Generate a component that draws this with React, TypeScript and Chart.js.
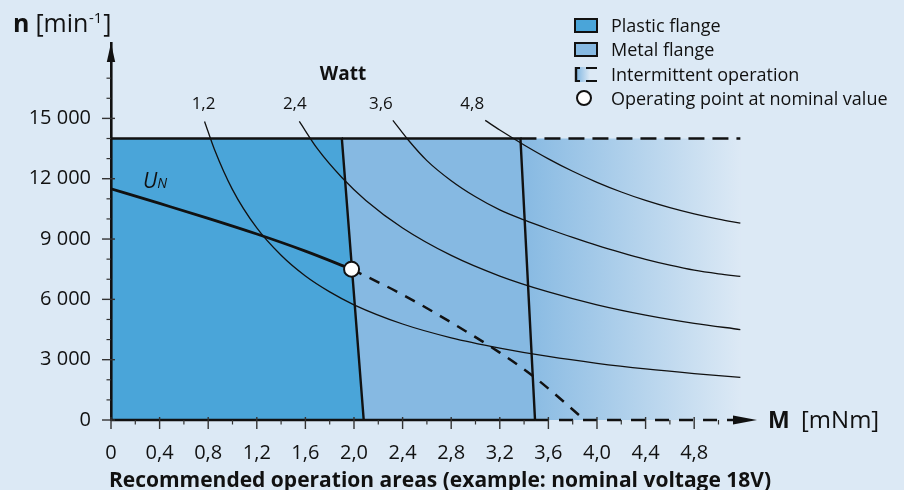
import React, { useEffect, useRef } from 'react';
import { Chart, registerables } from 'chart.js';

Chart.register(...registerables);

const FONT = '"Open Sans", "DejaVu Sans", sans-serif';
const BG = '#dce9f5';
const PLASTIC = '#4aa5d9';
const METAL = '#86b9e2';
const INK = '#111111';

// ---- axes ----
const xTickValues = [0, 0.4, 0.8, 1.2, 1.6, 2.0, 2.4, 2.8, 3.2, 3.6, 4.0, 4.4, 4.8];
const xMinorValues = [0.2, 0.6, 1.0, 1.4, 1.8, 2.2, 2.6, 3.0, 3.4, 3.8, 4.2, 4.6, 5.0];
const yTickValues = [0, 3000, 6000, 9000, 12000, 15000];
const yMinorValues = [1000, 2000, 4000, 5000, 7000, 8000, 10000, 11000, 13000, 14000, 16000, 17000];
const xMax = 5.317;
const yMax = 18750;

// ---- operation areas ----
const maxSpeed = 14000;
const plasticLimitTop = 1.9;
const plasticLimitBottom = 2.08;
const metalLimitTop = 3.37;
const metalLimitBottom = 3.49;
const intermittentLimit = 5.18;
const axisDashEnd = 5.12;

// ---- constant power curves (Watt) ----
const wattLabels = ['1,2', '2,4', '3,6', '4,8'];
const watt12M = [0.77, 0.85, 1.0, 1.2, 1.4, 1.6, 1.8, 2.0, 2.4, 2.8, 3.2, 3.6, 4.0, 4.4, 4.8, 5.18];
const watt12N = [14850, 13480, 11460, 9550, 8190, 7160, 6370, 5730, 4775, 4090, 3580, 3160, 2820, 2540, 2310, 2120];
const watt24M = [1.55, 1.7, 1.9, 2.1, 2.4, 2.8, 3.2, 3.6, 4.0, 4.4, 4.8, 5.18];
const watt24N = [14850, 13480, 12060, 10910, 9550, 8185, 7160, 6370, 5730, 5220, 4810, 4500];
const watt36M = [2.32, 2.45, 2.6, 2.8, 3.0, 3.2, 3.4, 3.6, 3.8, 4.0, 4.2, 4.4, 4.6, 4.8, 5.0, 5.18];
const watt36N = [14900, 13900, 12900, 11900, 11100, 10450, 9950, 9500, 9080, 8680, 8320, 7990, 7700, 7450, 7270, 7140];
const watt48M = [3.08, 3.2, 3.4, 3.6, 3.8, 4.0, 4.2, 4.4, 4.6, 4.8, 5.0, 5.18];
const watt48N = [14900, 14420, 13680, 12990, 12370, 11820, 11340, 10920, 10560, 10250, 9990, 9790];

// ---- nominal voltage characteristic ----
const unM = [0, 0.4, 0.8, 1.2, 1.6, 1.98];
const unN = [11500, 10770, 10030, 9250, 8400, 7500];
const unDashM = [1.98, 2.38, 2.8, 3.2, 3.47, 3.9];
const unDashN = [7500, 6300, 4850, 3350, 2200, 0];
const operatingM = 1.98;
const operatingN = 7500;

const zip = (xs: number[], ys: number[]) => xs.map((x, i) => ({ x, y: ys[i] }));

// label offsets (px) relative to the start of each power curve
const wattLabelDx = [-1, -4.5, -12, -13];

function fmtY(v: number) {
  if (v < 1000) return String(v);
  return `${Math.floor(v / 1000)} ${String(v % 1000).padStart(3, '0')}`;
}
function fmtX(v: number) {
  if (v === 0) return '0';
  return v.toFixed(1).replace('.', ',');
}

const overlay = {
  id: 'overlay',
  afterDraw(chart: any) {
    const { ctx, scales } = chart;
    const xs = scales.x;
    const ys = scales.y;
    const x0 = xs.getPixelForValue(0);
    const y0 = ys.getPixelForValue(0);
    ctx.save();
    const seg = (a: number, b: number, c: number, d: number, w: number, col = INK) => {
      ctx.beginPath();
      ctx.lineWidth = w;
      ctx.strokeStyle = col;
      ctx.moveTo(a, b);
      ctx.lineTo(c, d);
      ctx.stroke();
    };
    // ticks
    xTickValues.forEach((v) => {
      const p = xs.getPixelForValue(v);
      seg(p, y0 - 3, p, y0 + 9, 1.4, '#333');
    });
    xMinorValues.forEach((v) => {
      const p = xs.getPixelForValue(v);
      seg(p, y0, p, y0 + 4.5, 1.2, '#333');
    });
    yTickValues.forEach((v) => {
      const p = ys.getPixelForValue(v);
      seg(x0 - 9, p, x0 + 4, p, 1.4, '#333');
    });
    yMinorValues.forEach((v) => {
      const p = ys.getPixelForValue(v);
      seg(x0 - 4.5, p, x0, p, 1.2, '#333');
    });
    // arrow heads
    ctx.fillStyle = INK;
    ctx.beginPath();
    ctx.moveTo(x0, ys.top);
    ctx.lineTo(x0 - 4.2, ys.top + 19);
    ctx.lineTo(x0 + 4.2, ys.top + 19);
    ctx.closePath();
    ctx.fill();
    ctx.beginPath();
    ctx.moveTo(xs.right, y0);
    ctx.lineTo(xs.right - 24, y0 - 4.5);
    ctx.lineTo(xs.right - 24, y0 + 4.5);
    ctx.closePath();
    ctx.fill();

    // texts
    ctx.fillStyle = INK;
    ctx.textBaseline = 'alphabetic';
    ctx.textAlign = 'left';
    // y axis title
    ctx.font = `bold 25px ${FONT}`;
    ctx.fillText('n', 13, 32);
    let cx = 13 + ctx.measureText('n').width + 6;
    ctx.font = `25px ${FONT}`;
    ctx.fillText('[min', cx, 32);
    cx += ctx.measureText('[min').width;
    ctx.font = `15px ${FONT}`;
    ctx.fillText('-1', cx + 0.5, 23);
    cx += ctx.measureText('-1').width + 1.5;
    ctx.font = `25px ${FONT}`;
    ctx.fillText(']', cx, 32);

    // x axis title
    ctx.font = `bold 23px ${FONT}`;
    ctx.fillText('M', 768, 428);
    ctx.font = `24px ${FONT}`;
    ctx.fillText('[mNm]', 801, 428);

    // U_N
    ctx.font = `italic 21px ${FONT}`;
    ctx.fillText('U', 143, 188);
    const uw = ctx.measureText('U').width;
    ctx.font = `italic 14px ${FONT}`;
    ctx.fillText('N', 143 + uw, 188);

    // Watt labels
    ctx.textAlign = 'center';
    ctx.font = `bold 19px ${FONT}`;
    ctx.fillText('Watt', 343, 80);
    ctx.font = `17px ${FONT}`;
    const starts = [watt12M[0], watt24M[0], watt36M[0], watt48M[0]];
    wattLabels.forEach((l, i) => {
      ctx.fillText(l, xs.getPixelForValue(starts[i]) + wattLabelDx[i], 109);
    });

    // bottom caption
    ctx.font = `bold 21px ${FONT}`;
    ctx.fillText('Recommended operation areas (example: nominal voltage 18V)', 440, 487);

    // legend
    ctx.textAlign = 'left';
    ctx.lineWidth = 2;
    ctx.strokeStyle = INK;
    ctx.fillStyle = PLASTIC;
    ctx.fillRect(575, 19, 22, 13);
    ctx.strokeRect(575, 19, 22, 13);
    ctx.fillStyle = METAL;
    ctx.fillRect(575, 43, 22, 13);
    ctx.strokeRect(575, 43, 22, 13);
    const lg = ctx.createLinearGradient(577, 0, 590, 0);
    lg.addColorStop(0, METAL);
    lg.addColorStop(1, BG);
    ctx.fillStyle = lg;
    ctx.fillRect(577, 67, 20, 15);
    seg(576, 67, 576, 82, 2.4);
    seg(575, 68, 580, 68, 2);
    seg(575, 81, 580, 81, 2);
    seg(586, 68, 597, 68, 2);
    seg(586, 81, 597, 81, 2);
    ctx.beginPath();
    ctx.arc(584, 98, 7, 0, Math.PI * 2);
    ctx.fillStyle = '#ffffff';
    ctx.fill();
    ctx.lineWidth = 2;
    ctx.stroke();

    ctx.fillStyle = INK;
    ctx.font = `18px ${FONT}`;
    ctx.fillText('Plastic flange', 611, 31.5);
    ctx.fillText('Metal flange', 611, 56);
    ctx.fillText('Intermittent operation', 611, 80.5);
    ctx.fillText('Operating point at nominal value', 611, 105);
    ctx.restore();
  },
};

export default function App() {
  const ref = useRef<HTMLCanvasElement>(null);
  useEffect(() => {
    const canvas = ref.current;
    if (!canvas) return;
    Chart.defaults.font.family = FONT;
    const thin = { borderColor: INK, borderWidth: 1.3, pointRadius: 0, fill: false, cubicInterpolationMode: 'monotone' as const, order: 2 };
    const chart = new Chart(canvas, {
      type: 'line',
      data: {
        datasets: [
          {
            label: 'Operating point at nominal value',
            data: [{ x: operatingM, y: operatingN }],
            showLine: false,
            pointRadius: 7.5,
            pointBackgroundColor: '#ffffff',
            pointBorderColor: INK,
            pointBorderWidth: 2,
            order: 0,
          },
          {
            label: 'U_N',
            data: zip(unM, unN),
            borderColor: INK,
            borderWidth: 2.8,
            pointRadius: 0,
            fill: false,
            cubicInterpolationMode: 'monotone',
            order: 1,
          },
          {
            label: 'U_N intermittent',
            data: zip(unDashM, unDashN),
            borderColor: INK,
            borderWidth: 2.5,
            borderDash: [11, 9],
            pointRadius: 0,
            fill: false,
            cubicInterpolationMode: 'monotone',
            order: 1,
          },
          { label: '1,2 W', data: zip(watt12M, watt12N), ...thin },
          { label: '2,4 W', data: zip(watt24M, watt24N), ...thin },
          { label: '3,6 W', data: zip(watt36M, watt36N), ...thin },
          { label: '4,8 W', data: zip(watt48M, watt48N), ...thin },
          {
            label: 'Intermittent limit',
            data: [
              { x: metalLimitTop, y: maxSpeed },
              { x: intermittentLimit, y: maxSpeed },
            ],
            borderColor: INK,
            borderWidth: 2.5,
            borderDash: [16, 8],
            pointRadius: 0,
            fill: false,
            order: 3,
          },
          {
            label: 'Axis solid',
            data: [
              { x: 0, y: 0 },
              { x: metalLimitBottom, y: 0 },
            ],
            borderColor: INK,
            borderWidth: 2.6,
            pointRadius: 0,
            fill: false,
            clip: false,
            order: 3,
          },
          {
            label: 'Axis dashed',
            data: [
              { x: metalLimitBottom, y: 0 },
              { x: axisDashEnd, y: 0 },
            ],
            borderColor: INK,
            borderWidth: 2.6,
            borderDash: [14, 10],
            pointRadius: 0,
            fill: false,
            clip: false,
            order: 3,
          },
          {
            label: 'Plastic flange',
            data: [
              { x: 0, y: maxSpeed },
              { x: plasticLimitTop, y: maxSpeed },
              { x: plasticLimitBottom, y: 0 },
            ],
            borderColor: INK,
            borderWidth: 2.4,
            backgroundColor: PLASTIC,
            fill: 'origin',
            pointRadius: 0,
            tension: 0,
            order: 5,
          },
          {
            label: 'Metal flange',
            data: [
              { x: plasticLimitTop, y: maxSpeed },
              { x: metalLimitTop, y: maxSpeed },
              { x: metalLimitBottom, y: 0 },
            ],
            borderColor: INK,
            borderWidth: 2.4,
            backgroundColor: METAL,
            fill: 'origin',
            pointRadius: 0,
            tension: 0,
            order: 6,
          },
          {
            label: 'Intermittent operation',
            data: [
              { x: metalLimitTop, y: maxSpeed },
              { x: intermittentLimit, y: maxSpeed },
              { x: intermittentLimit, y: 0 },
            ],
            borderWidth: 0,
            borderColor: 'rgba(0,0,0,0)',
            backgroundColor: (c: any) => {
              const ch = c.chart;
              if (!ch.chartArea) return METAL;
              const xs = ch.scales.x;
              const g = ch.ctx.createLinearGradient(
                xs.getPixelForValue(metalLimitTop), 0,
                xs.getPixelForValue(intermittentLimit), 0,
              );
              g.addColorStop(0, METAL);
              g.addColorStop(1, BG);
              return g;
            },
            fill: 'origin',
            pointRadius: 0,
            tension: 0,
            order: 7,
          },
        ] as any,
      },
      options: {
        animation: false,
        responsive: false,
        devicePixelRatio: 1,
        events: [],
        layout: { padding: { top: 43, right: 147, left: 0, bottom: 0 } },
        plugins: { legend: { display: false }, tooltip: { enabled: false }, title: { display: false } },
        scales: {
          x: {
            type: 'linear',
            min: 0,
            max: xMax,
            grid: { display: false, drawTicks: false },
            border: { display: false },
            afterBuildTicks: (s: any) => {
              s.ticks = xTickValues.map((v) => ({ value: v }));
            },
            afterFit: (s: any) => {
              s.height = 70;
            },
            ticks: {
              autoSkip: false,
              maxRotation: 0,
              padding: 21,
              color: INK,
              font: { size: 20, family: FONT },
              callback: (v: any) => fmtX(Number(v)),
            },
          },
          y: {
            type: 'linear',
            min: 0,
            max: yMax,
            grid: { display: false, drawTicks: false },
            border: { display: true, color: INK, width: 2.6, z: 1 },
            afterBuildTicks: (s: any) => {
              s.ticks = yTickValues.map((v) => ({ value: v }));
            },
            afterFit: (s: any) => {
              s.width = 111;
            },
            ticks: {
              autoSkip: false,
              padding: 20,
              color: INK,
              font: { size: 20, family: FONT },
              callback: (v: any) => fmtY(Number(v)),
            },
          },
        },
      } as any,
      plugins: [overlay],
    });
    return () => chart.destroy();
  }, []);

  return (
    <div style={{ position: 'absolute', left: 0, top: 0, width: 904, height: 490, background: BG }}>
      <canvas ref={ref} width={904} height={490} style={{ display: 'block', width: 904, height: 490 }} />
    </div>
  );
}
